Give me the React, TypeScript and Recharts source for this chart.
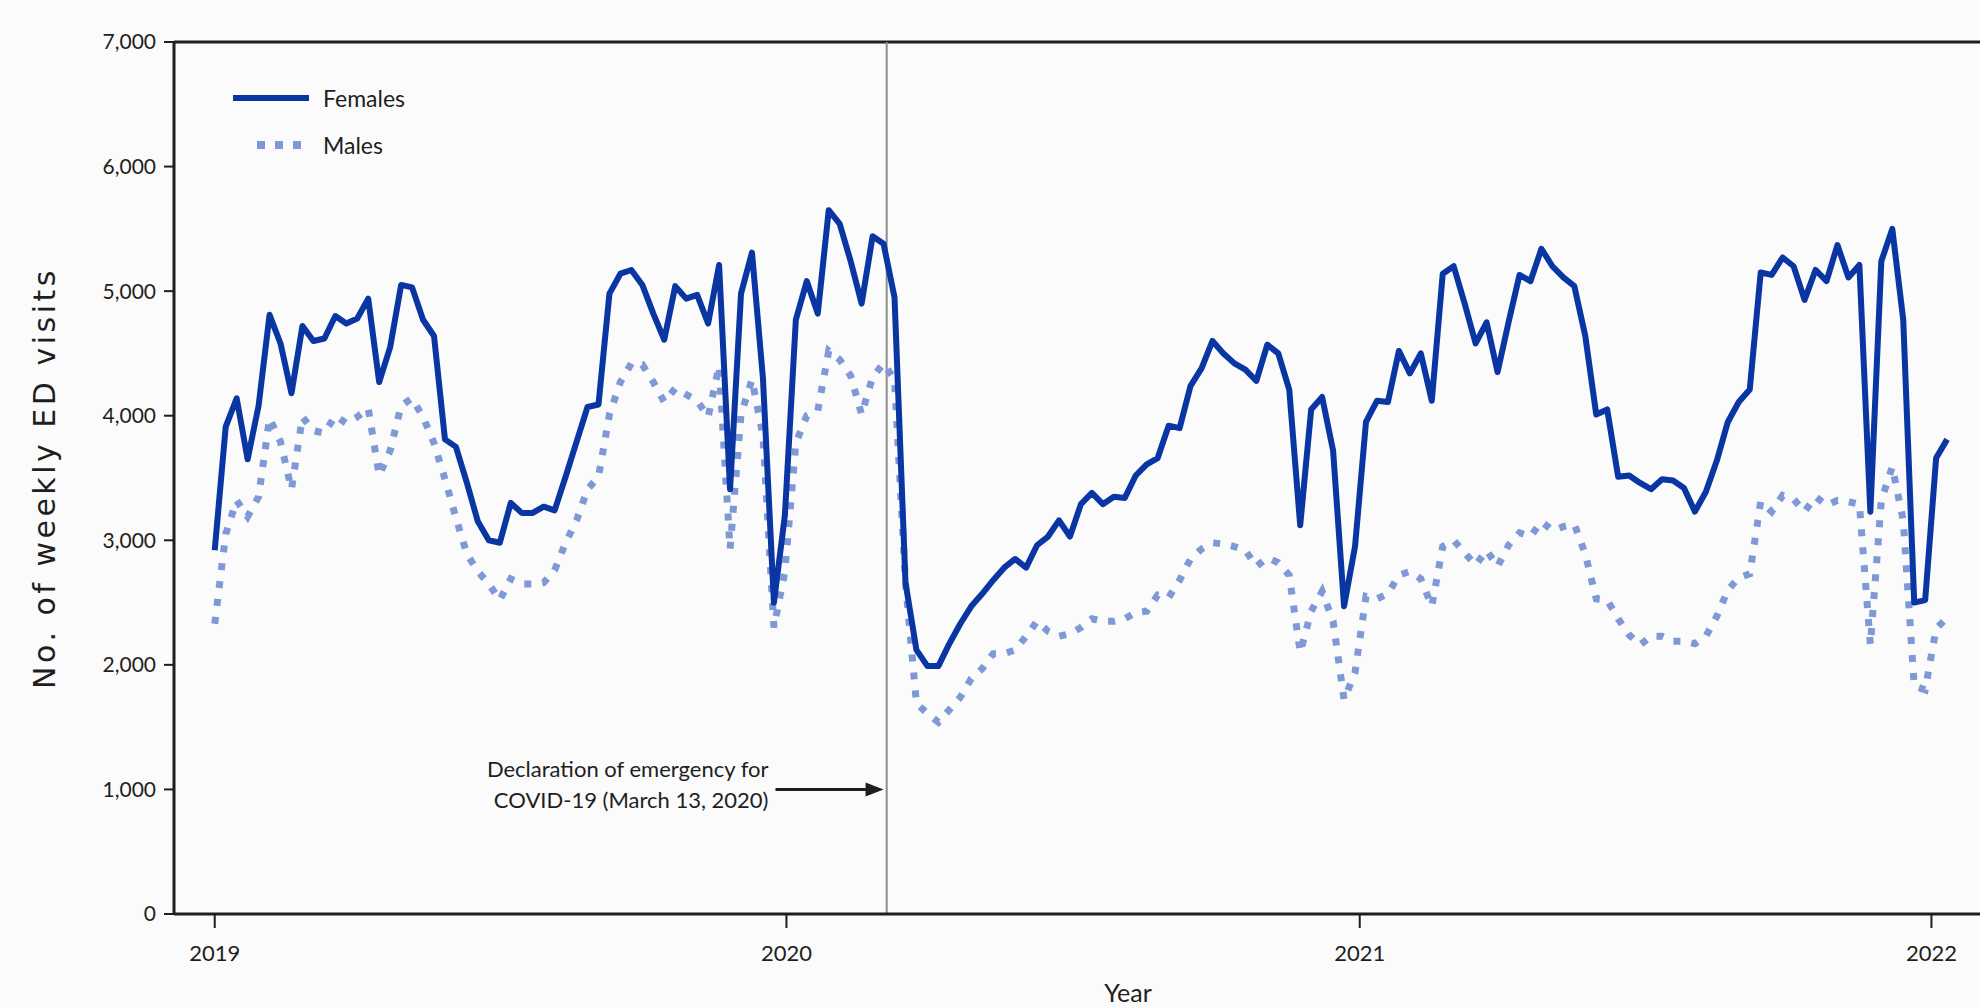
import { Line, LineChart, ReferenceLine, XAxis, YAxis } from "recharts";

// weekly ED visits, one value per week starting with the first week of 2019
const FEMALES = [
  2920, 3910, 4140, 3650, 4080, 4810, 4580, 4180, 4720, 4600, 4620, 4800, 4740, 4780, 4940, 4270,
  4550, 5050, 5030, 4770, 4640, 3810, 3750, 3460, 3150, 3000, 2980, 3300, 3220, 3220, 3270, 3240,
  3510, 3790, 4070, 4090, 4980, 5140, 5170, 5050, 4820, 4610, 5040, 4940, 4970, 4740, 5210, 3410,
  4980, 5310, 4300, 2500, 3200, 4770, 5080, 4820, 5650, 5540, 5240, 4900, 5440, 5380, 4950, 2660,
  2120, 1990, 1990, 2170, 2330, 2470, 2570, 2680, 2780, 2850, 2780, 2960, 3030, 3160, 3030, 3290,
  3380, 3290, 3350, 3340, 3520, 3610, 3660, 3920, 3900, 4240, 4380, 4600, 4500, 4420, 4370, 4280,
  4570, 4500, 4210, 3120, 4050, 4150, 3720, 2470, 2950, 3950, 4120, 4110, 4520, 4340, 4500, 4120,
  5140, 5200, 4900, 4580, 4750, 4350, 4750, 5130, 5080, 5340, 5200, 5110, 5040, 4640, 4010, 4050,
  3510, 3520, 3460, 3410, 3490, 3480, 3420, 3230, 3390, 3640, 3950, 4110, 4210, 5150, 5130, 5270,
  5200, 4930, 5170, 5080, 5370, 5110, 5210, 3230, 5240, 5500, 4770, 2500, 2520, 3660, 3810,
];

const MALES = [
  2330, 3050, 3320, 3190, 3350, 3980, 3790, 3410, 3990, 3880, 3860, 4000, 3940, 3990, 4060, 3520,
  3720, 4080, 4140, 3990, 3780, 3490, 3180, 2890, 2750, 2650, 2520, 2690, 2650, 2650, 2660, 2760,
  2980, 3160, 3410, 3510, 4010, 4270, 4420, 4410, 4270, 4110, 4220, 4170, 4120, 3990, 4400, 2930,
  4010, 4290, 3840, 2300, 2750, 3780, 4000, 4040, 4520, 4450, 4320, 4010, 4310, 4420, 4290, 2660,
  1690, 1610, 1540, 1640, 1740, 1890, 1970, 2090, 2090, 2120, 2230, 2350, 2270, 2230, 2250, 2300,
  2370, 2350, 2350, 2370, 2420, 2430, 2560, 2540, 2680, 2850, 2930, 2980, 2970, 2950, 2920, 2790,
  2860, 2820, 2720, 2100, 2430, 2590, 2350, 1720, 1940, 2550, 2530, 2570, 2720, 2750, 2690, 2470,
  2950, 3000, 2900, 2800, 2920, 2790, 2960, 3060, 3030, 3150, 3080, 3110, 3130, 2890, 2530, 2520,
  2370, 2240, 2160, 2230, 2230, 2190, 2190, 2170, 2230, 2390, 2600, 2700, 2730, 3310, 3230, 3360,
  3330, 3230, 3350, 3280, 3320, 3310, 3290, 2160, 3320, 3590, 3160, 1830, 1800, 2290, 2380,
];

const YEAR_LABELS = ["2019", "2020", "2021", "2022"];
const YEAR_START_DAYS = [0, 365, 731, 1096]; // days after 1 Jan 2019
const Y_TICKS = [0, 1000, 2000, 3000, 4000, 5000, 6000, 7000];
const EMERGENCY_DAY = 429;
const ARROW_START_DAY = 358;
const ARROW_VALUE = 1000;

const data = FEMALES.map((females, i) => ({ day: i * 7, females, males: MALES[i] }));

const BG = "#fafbfa";
const INK = "#1e1e1e";
const FEMALE_BLUE = "#0a36a3";
const MALE_BLUE = "#7f99d7";
const FONT = "Lato, 'Open Sans', sans-serif";

function EmergencyArrow(props: any) {
  const { x1, y1, x2, y2 } = props;
  return (
    <g>
      <line x1={x1} y1={y1} x2={x2 - 14} y2={y2} stroke={INK} strokeWidth={3} />
      <polygon points={`${x2},${y2} ${x2 - 18},${y2 - 7} ${x2 - 18},${y2 + 7}`} fill={INK} />
      <text x={x1 - 7} y={y1 - 21} textAnchor="end" dominantBaseline="central" fontFamily={FONT} fontSize={22} fill={INK}>
        Declaration of emergency for
      </text>
      <text x={x1 - 7} y={y1 + 10} textAnchor="end" dominantBaseline="central" fontFamily={FONT} fontSize={22} fill={INK}>
        COVID-19 (March 13, 2020)
      </text>
    </g>
  );
}

function LegendRow({ dotted, label }: { dotted?: boolean; label: string }) {
  return (
    <div style={{ display: "flex", alignItems: "center", height: 47 }}>
      <svg width={78} height={10} aria-hidden>
        {dotted ? (
          <line x1={24} y1={5} x2={78} y2={5} stroke={MALE_BLUE} strokeWidth={8} strokeDasharray="8 10" />
        ) : (
          <line x1={0} y1={5} x2={76} y2={5} stroke={FEMALE_BLUE} strokeWidth={6} />
        )}
      </svg>
      <span style={{ marginLeft: 12 }}>{label}</span>
    </div>
  );
}

export default function App() {
  return (
    <div style={{ position: "fixed", left: 0, top: 0, width: 1980, height: 1008, overflow: "hidden", background: BG }}>
      <LineChart width={1980} height={1008} data={data} margin={{ top: 42, right: 0, bottom: 0, left: 0 }}>
        <XAxis
          type="number"
          dataKey="day"
          domain={[-26, 1127]}
          allowDataOverflow
          ticks={YEAR_START_DAYS}
          tickFormatter={(v) => YEAR_LABELS[YEAR_START_DAYS.indexOf(v)] ?? ""}
          height={94}
          tickSize={14}
          tickMargin={17}
          axisLine={{ stroke: INK, strokeWidth: 3 }}
          tickLine={{ stroke: INK, strokeWidth: 2 }}
          tick={{ fill: INK, fontSize: 22, fontFamily: FONT }}
          label={{ value: "Year", position: "insideBottom", offset: 6, dx: 51, style: { fill: INK, fontSize: 25, fontFamily: FONT } }}
        />
        <YAxis
          type="number"
          domain={[0, 7000]}
          ticks={Y_TICKS}
          width={174}
          tickSize={10}
          tickMargin={8}
          tickFormatter={(v) => Number(v).toLocaleString("en-US")}
          axisLine={{ stroke: INK, strokeWidth: 3 }}
          tickLine={{ stroke: INK, strokeWidth: 2 }}
          tick={{ fill: INK, fontSize: 21, fontFamily: FONT }}
          label={{
            value: "No. of weekly ED visits",
            angle: -90,
            position: "insideLeft",
            offset: 44,
            style: { textAnchor: "middle", fill: INK, fontSize: 30, letterSpacing: 3.5, fontFamily: "'DejaVu Sans', sans-serif" },
          }}
        />
        <ReferenceLine y={7000} stroke={INK} strokeWidth={3} />
        <ReferenceLine x={EMERGENCY_DAY} stroke="#8c8c8c" strokeWidth={2} />
        <ReferenceLine
          segment={[
            { x: ARROW_START_DAY, y: ARROW_VALUE },
            { x: EMERGENCY_DAY - 2, y: ARROW_VALUE },
          ]}
          shape={EmergencyArrow}
        />
        <Line type="linear" dataKey="males" stroke={MALE_BLUE} strokeWidth={7} strokeDasharray="7 11" dot={false} isAnimationActive={false} />
        <Line type="linear" dataKey="females" stroke={FEMALE_BLUE} strokeWidth={6} strokeLinejoin="round" dot={false} isAnimationActive={false} />
      </LineChart>
      <div style={{ position: "absolute", left: 233, top: 74, fontFamily: FONT, fontSize: 23, color: INK }}>
        <LegendRow label="Females" />
        <LegendRow dotted label="Males" />
      </div>
    </div>
  );
}
